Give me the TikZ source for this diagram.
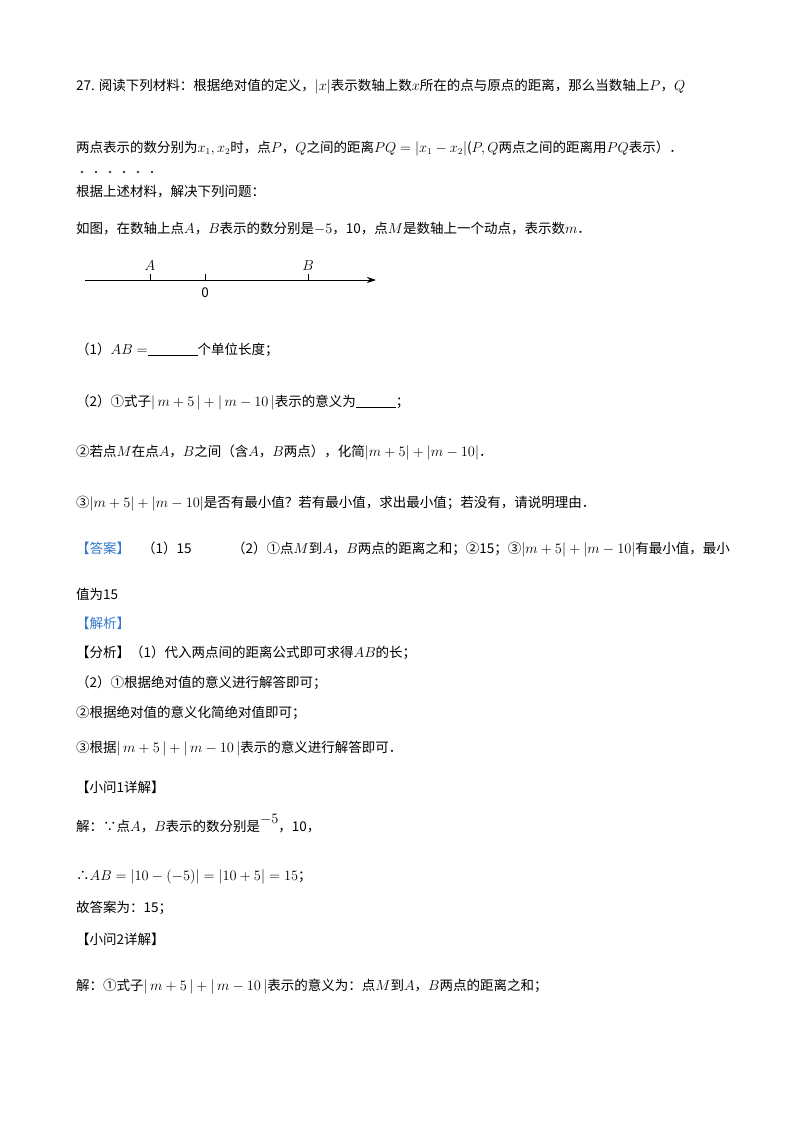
\documentclass[tikz,border=0pt]{standalone}
\usepackage{fontspec}
\setmainfont{Noto Sans CJK SC}
\usetikzlibrary{arrows.meta}
\definecolor{hd}{RGB}{50,120,200}
\begin{document}
\begin{tikzpicture}[x=1pt,y=-1pt,
  t/.style={anchor=base west,inner sep=0pt,font=\fontsize{13.5}{16}\selectfont},
  hdr/.style={t,text=hd}]
\useasboundingbox (0,0) rectangle (800,1132);
\node[t] (l1) at (76,90) {27. 阅读下列材料：根据绝对值的定义，$|x|$表示数轴上数$x$所在的点与原点的距离，那么当数轴上$P$，$Q$};
\node[t] (l2) at (76,152) {两点表示的数分别为$x_1,x_2$时，点$P$，$Q$之间的距离$PQ=|x_1-x_2|$($P,Q$两点之间的距离用$PQ$表示）．};
\foreach \i in {0,...,5} \fill (82+14*\i,172) circle (1.2);
\node[t] (l3) at (76,196) {根据上述材料，解决下列问题：};
\node[t] (l4) at (76,233) {如图，在数轴上点$A$，$B$表示的数分别是$-5$，10，点$M$是数轴上一个动点，表示数$m$．};
\coordinate (s) at (85,280); \coordinate (e) at (376,280);
\draw[thick,-{Stealth[length=9pt,width=6pt]}] (s) -- (e);
\foreach \x in {150,205,308} \draw[thick] (\x,280) -- (\x,274);
\node[t,anchor=base] (A) at (150,270) {$A$};
\node[t,anchor=base] (B) at (308,270) {$B$};
\node[t,anchor=base] (O) at (205,297) {0};
\node[t] (q1) at (76,354) {（1）$AB=$\underline{\hspace{50pt}}个单位长度；};
\node[t] (q2) at (76,406) {（2）①式子$|\,m+5\,|+|\,m-10\,|$表示的意义为\underline{\hspace{40pt}}；};
\node[t] (q3) at (76,456) {②若点$M$在点$A$，$B$之间（含$A$，$B$两点），化简$|m+5|+|m-10|$．};
\node[t] (q4) at (76,507) {③$|m+5|+|m-10|$是否有最小值？若有最小值，求出最小值；若没有，请说明理由．};
\node[hdr] (ans) at (76,553) {【答案】};
\node[t] (ans2) at (142,553) {（1）15\qquad\quad（2）①点$M$到$A$，$B$两点的距离之和；②15；③$|m+5|+|m-10|$有最小值，最小};
\node[t] (ans3) at (76,599) {值为15};
\node[hdr] (jx) at (76,628) {【解析】};
\node[t] (f1) at (76,657) {【分析】（1）代入两点间的距离公式即可求得$AB$的长；};
\node[t] (f2) at (76,687) {（2）①根据绝对值的意义进行解答即可；};
\node[t] (f3) at (76,717) {②根据绝对值的意义化简绝对值即可；};
\node[t] (f4) at (76,752) {③根据$|\,m+5\,|+|\,m-10\,|$表示的意义进行解答即可．};
\node[t] (x1) at (76,792) {【小问1详解】};
\node[t] (x2) at (76,831) {解：∵点$A$，$B$表示的数分别是$\raisebox{8pt}{$-5$}$，10，};
\node[t] (x3) at (76,880) {∴$AB=|10-(-5)|=|10+5|=15$；};
\node[t] (x4) at (76,912) {故答案为：15；};
\node[t] (x5) at (76,944) {【小问2详解】};
\node[t] (x6) at (76,990) {解：①式子$|\,m+5\,|+|\,m-10\,|$表示的意义为：点$M$到$A$，$B$两点的距离之和；};
\end{tikzpicture}
\end{document}
